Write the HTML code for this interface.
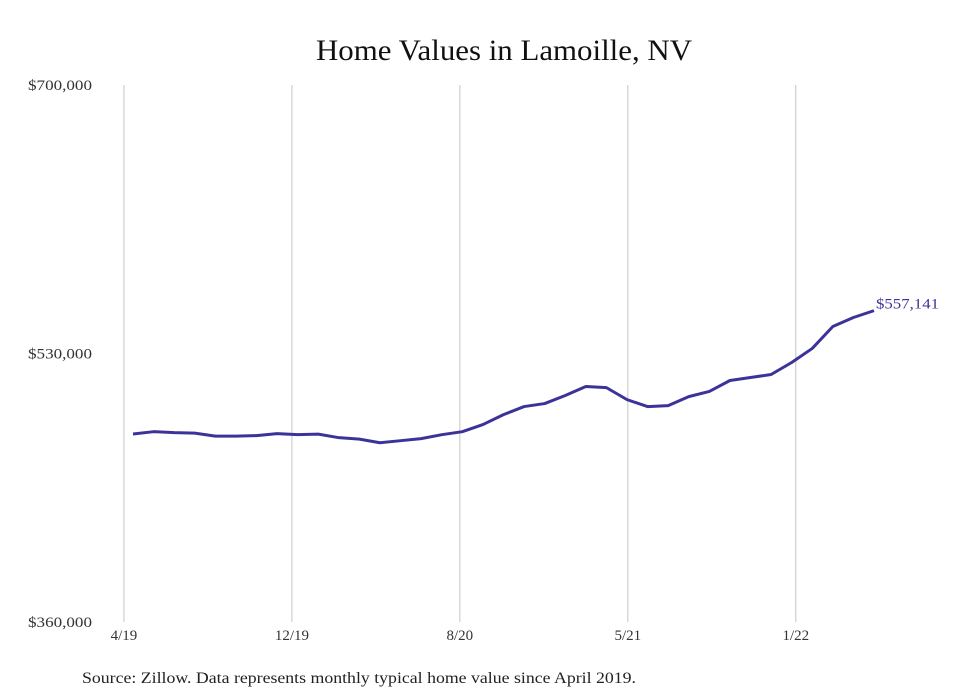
<!DOCTYPE html>
<html><head><meta charset="utf-8"><style>
body{margin:0;background:#fff;}
svg{display:block;font-family:"Liberation Serif",serif;}
</style></head><body>
<svg id="chart" width="980" height="699">
<text x="316" y="60" textLength="376" lengthAdjust="spacingAndGlyphs" font-size="30" fill="#111">Home Values in Lamoille, NV</text>
<g id="grid"></g><g id="yaxis"></g><g id="xaxis"></g><g id="series"></g>
<text x="82" y="683" textLength="554" lengthAdjust="spacingAndGlyphs" font-size="16" fill="#222">Source: Zillow. Data represents monthly typical home value since April 2019.</text>
</svg>
<script>
const values=[479000,480500,479900,479600,477700,477700,478000,479300,478600,478950,476700,475800,473500,474800,476100,478600,480500,485000,491300,496400,498300,503400,509100,508400,500800,496400,497000,502700,506000,512900,514800,516700,524300,533200,547100,552800,557141];
const yTicks=[360000,530000,700000];
const yTickLabels=["$360,000","$530,000","$700,000"];
const xTickIdx=[-0.44,7.72,15.88,24.04,32.2];
const xTickLabels=["4/19","12/19","8/20","5/21","1/22"];
const lastLabel="$557,141";
const ns="http://www.w3.org/2000/svg";
const y=v=>622-(v-360000)/340000*537;
const x=i=>133+i*(741/36);
function mk(t,a,p){const e=document.createElementNS(ns,t);for(const k in a)e.setAttribute(k,a[k]);p.appendChild(e);return e;}
const g=document.getElementById('grid'),ya=document.getElementById('yaxis'),xa=document.getElementById('xaxis'),s=document.getElementById('series');
yTicks.forEach((v,i)=>{const t=mk('text',{x:28,y:y(v)+5,textLength:64,lengthAdjust:'spacingAndGlyphs','font-size':15,fill:'#333'},ya);t.textContent=yTickLabels[i];

});
xTickIdx.forEach((v,i)=>{const l=mk('line',{x1:x(v),x2:x(v),y1:85,y2:622,stroke:'#c4c4c4','stroke-width':1},g);


const t=mk('text',{x:x(v),y:640,'text-anchor':'middle','font-size':15,fill:'#333'},xa);t.textContent=xTickLabels[i];

});
const p=mk('polyline',{points:values.map((v,i)=>x(i)+','+y(v)).join(' '),fill:'none',stroke:'#3c3399','stroke-width':3,'stroke-linejoin':'round'},s);


const n=values.length-1;
const lt=mk('text',{x:x(n)+2,y:y(values[n])-2,textLength:63,lengthAdjust:'spacingAndGlyphs','font-size':15,fill:'#3c3399'},s);lt.textContent=lastLabel;


</script>
</body></html>
